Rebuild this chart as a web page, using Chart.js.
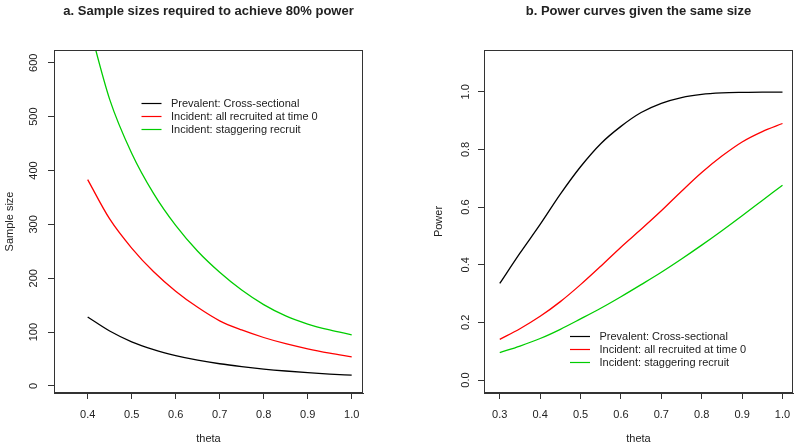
<!DOCTYPE html>
<html>
<head>
<meta charset="utf-8">
<script src="https://cdn.jsdelivr.net/npm/chart.js@4.4.1/dist/chart.umd.min.js"></script>
<style>
  html, body { margin: 0; padding: 0; background: #fff; }
  #wrap { position: relative; width: 800px; height: 448px; }
  .panel { position: absolute; top: 0; width: 400px; height: 448px; }
</style>
</head>
<body>
<div id="wrap">
  <div class="panel" style="left:0"><canvas id="sizeChart" width="400" height="448"></canvas></div>
  <div class="panel" style="left:400px"><canvas id="powerChart" width="400" height="448"></canvas></div>
</div>
<script>
// series names (shared legend text)
const seriesLabels = ['Prevalent: Cross-sectional', 'Incident: all recruited at time 0', 'Incident: staggering recruit'];
const seriesColors = ['#000000', '#FF0000', '#00CD00'];

// panel a: sample size vs theta
const thetaSize = [0.40, 0.45, 0.50, 0.55, 0.60, 0.65, 0.70, 0.75, 0.80, 0.85, 0.90, 0.95, 1.00];
const sizePrevalent = [128, 102, 82, 67.5, 56.5, 48, 41.3, 36, 31.5, 27.8, 24.7, 22.2, 20];
const sizeIncident0 = [383, 310, 256, 212, 176, 146, 121, 104, 90, 78.5, 69, 61, 54];
const sizeStagger   = [680, 532, 432, 357, 298, 250, 211, 178, 151, 130, 115, 104, 95];
const sizeXTicks = [0.4, 0.5, 0.6, 0.7, 0.8, 0.9, 1.0];
const sizeYTicks = [0, 100, 200, 300, 400, 500, 600];

// panel b: power vs theta
const thetaPower = [0.30, 0.35, 0.40, 0.45, 0.50, 0.55, 0.60, 0.65, 0.70, 0.75, 0.80, 0.85, 0.90, 0.95, 1.00];
const powerPrevalent = [0.335, 0.44, 0.54, 0.645, 0.74, 0.82, 0.88, 0.928, 0.96, 0.98, 0.991, 0.996, 0.998, 0.999, 0.999];
const powerIncident0 = [0.141, 0.178, 0.221, 0.272, 0.331, 0.395, 0.461, 0.523, 0.587, 0.655, 0.72, 0.777, 0.826, 0.862, 0.89];
const powerStagger   = [0.095, 0.118, 0.144, 0.176, 0.212, 0.249, 0.289, 0.331, 0.374, 0.42, 0.468, 0.518, 0.57, 0.623, 0.676];
const powerXTicks = [0.3, 0.4, 0.5, 0.6, 0.7, 0.8, 0.9, 1.0];
const powerYTicks = [0.0, 0.2, 0.4, 0.6, 0.8, 1.0];

const FONT = '"Liberation Sans", Arial, Helvetica, sans-serif';
const INK = '#222';
const AXIS = '#333';
Chart.defaults.font.family = FONT;
Chart.defaults.font.size = 11;
Chart.defaults.color = INK;

// R-style box, rotated y tick labels and a free-floating legend
const rbox = {
  id: 'rbox',
  afterDraw(chart, args, opts) {
    const { ctx, chartArea: a } = chart;
    const y = chart.scales.y;
    ctx.save();
    ctx.strokeStyle = AXIS;
    ctx.lineWidth = 1;
    ctx.strokeRect(Math.round(a.left) + 0.5, Math.round(a.top) + 0.5,
      Math.round(a.right - a.left) - 1, Math.round(a.bottom - a.top) - 1);

    ctx.fillStyle = INK;
    ctx.font = '11px ' + FONT;
    ctx.textAlign = 'center';
    ctx.textBaseline = 'middle';
    y.ticks.forEach(t => {
      ctx.save();
      ctx.translate(a.left - opts.labelGap, y.getPixelForValue(t.value));
      ctx.rotate(-Math.PI / 2);
      ctx.fillText(t.value.toFixed(opts.digits), 0, 0);
      ctx.restore();
    });

    ctx.textAlign = 'left';
    chart.data.datasets.forEach((ds, i) => {
      const yy = Math.round(opts.legY + i * opts.legGap) + 0.5;
      ctx.strokeStyle = ds.borderColor;
      ctx.lineWidth = 1.2;
      ctx.beginPath();
      ctx.moveTo(opts.legX, yy);
      ctx.lineTo(opts.legX + 20, yy);
      ctx.stroke();
      ctx.fillText(ds.label, opts.legX + 29.5, yy);
    });
    ctx.restore();
  }
};

function makeDatasets(xs, seriesList) {
  return seriesList.map((vals, i) => ({
    label: seriesLabels[i],
    data: xs.map((x, j) => ({ x: x, y: vals[j] })),
    borderColor: seriesColors[i],
    borderWidth: 1.3,
    pointRadius: 0,
    cubicInterpolationMode: 'monotone',
    fill: false
  }));
}

function makeChart(id, cfg) {
  return new Chart(document.getElementById(id), {
    type: 'line',
    data: { datasets: makeDatasets(cfg.xs, cfg.series) },
    plugins: [rbox],
    options: {
      responsive: false,
      animation: false,
      layout: { padding: { left: 0, right: cfg.padRight, top: 0, bottom: 0 } },
      scales: {
        x: {
          type: 'linear',
          min: cfg.xMin, max: cfg.xMax,
          afterBuildTicks: s => { s.ticks = cfg.xTicks.map(v => ({ value: v })); },
          afterFit: s => { s.height = 55; },
          grid: { drawOnChartArea: false, drawTicks: true, tickLength: 6, tickColor: AXIS, color: AXIS },
          border: { display: true, color: AXIS, width: 1 },
          ticks: { padding: 9, maxRotation: 0, autoSkip: false, color: INK, callback: v => v.toFixed(1) },
          title: { display: true, text: 'theta', color: INK, font: { size: 11 }, padding: { top: 0, bottom: 2 } }
        },
        y: {
          min: cfg.yMin, max: cfg.yMax,
          afterBuildTicks: s => { s.ticks = cfg.yTicks.map(v => ({ value: v })); },
          afterFit: s => { s.width = cfg.yWidth; },
          grid: { drawOnChartArea: false, drawTicks: true, tickLength: 6, tickColor: AXIS, color: AXIS },
          border: { display: true, color: AXIS, width: 1 },
          ticks: { display: false },
          title: { display: true, text: cfg.yTitle, color: INK, font: { size: 11 }, padding: { top: cfg.yTitlePad, bottom: 0 } }
        }
      },
      plugins: {
        legend: { display: false },
        tooltip: { enabled: false },
        title: {
          display: true,
          fullSize: false,
          text: cfg.title,
          color: INK,
          font: { size: 13, weight: 'bold' },
          padding: { top: 4, bottom: 30.4 }
        },
        rbox: { digits: cfg.yDigits, labelGap: cfg.labelGap, legX: cfg.legX, legY: cfg.legY, legGap: 13 }
      }
    }
  });
}

makeChart('sizeChart', {
  title: 'a. Sample sizes required to achieve 80% power',
  xs: thetaSize,
  series: [sizePrevalent, sizeIncident0, sizeStagger],
  xMin: 0.3235, xMax: 1.0257, xTicks: sizeXTicks,
  yMin: -13, yMax: 623.6, yTicks: sizeYTicks, yDigits: 0, labelGap: 20,
  yTitle: 'Sample size', yTitlePad: 3.4, yWidth: 54, padRight: 37,
  legX: 141.5, legY: 102.7
});

makeChart('powerChart', {
  title: 'b. Power curves given the same size',
  xs: thetaPower,
  series: [powerPrevalent, powerIncident0, powerStagger],
  xMin: 0.261, xMax: 1.026, xTicks: powerXTicks,
  yMin: -0.045, yMax: 1.145, yTicks: powerYTicks, yDigits: 1, labelGap: 18,
  yTitle: 'Power', yTitlePad: 32.4, yWidth: 84, padRight: 7,
  legX: 170, legY: 335.7
});
</script>
</body>
</html>
